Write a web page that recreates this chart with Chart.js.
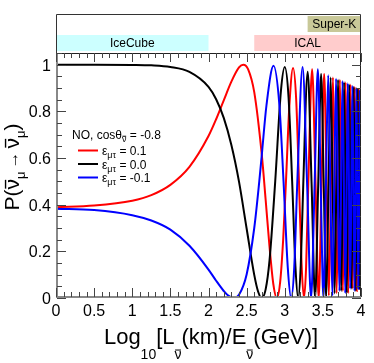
<!DOCTYPE html>
<html>
<head>
<meta charset="utf-8">
<script src="https://cdn.jsdelivr.net/npm/chart.js@4.4.0/dist/chart.umd.min.js"></script>
<style>
  html, body { margin: 0; padding: 0; background: #fff; }
  #wrap { width: 374px; height: 363px; position: relative; }
</style>
</head>
<body>
<div id="wrap"><canvas id="probChart"></canvas></div>
<script>
// ==== DATA ====
// x = Log10[L/E], y = P(anti-numu -> anti-numu)
const redX = [0, 0.5, 1.0, 1.25, 1.5, 1.75, 2.0, 2.1, 2.2, 2.3, 2.4, 2.457, 2.52, 2.6, 2.7, 2.75, 2.8, 2.85, 2.896,
  2.94, 2.98, 3.016, 3.06, 3.109, 3.15, 3.1865, 3.22, 3.252, 3.28, 3.309, 3.359, 3.404, 3.445, 3.482, 3.517,
  3.549, 3.578, 3.606, 3.632, 3.657, 3.680, 3.702, 3.723, 3.743, 3.762, 3.781, 3.798, 3.815, 3.832, 3.847,
  3.862, 3.877, 3.891, 3.905, 3.918, 3.931, 3.944, 3.956, 3.968, 3.979, 3.991, 4.0];
const redY = [0.389, 0.396, 0.417, 0.441, 0.485, 0.562, 0.694, 0.766, 0.847, 0.927, 0.988, 1.0, 0.98, 0.882, 0.610, 0.419, 0.221, 0.060, 0,
  0.069, 0.255, 0.5, 0.82, 0.986, 0.851, 0.5, 0.15, 0, 0.133, 0.49, 0.98, 0.49, 0, 0.48, 0.96,
  0.48, 0.01, 0.48, 0.945, 0.48, 0.02, 0.47, 0.935, 0.47, 0.03, 0.47, 0.925, 0.47, 0.02, 0.47,
  0.915, 0.47, 0.04, 0.47, 0.905, 0.46, 0.03, 0.46, 0.895, 0.46, 0.04, 0.39];

const blackX = [0, 0.5, 1.0, 1.25, 1.5, 1.75, 2.0, 2.1, 2.2, 2.3, 2.4, 2.5, 2.6, 2.65, 2.699, 2.75, 2.8, 2.875,
  2.95, 3.0, 3.05, 3.097, 3.14, 3.176, 3.21, 3.243, 3.301, 3.352, 3.398, 3.439, 3.477, 3.512, 3.544, 3.574,
  3.602, 3.628, 3.653, 3.677, 3.699, 3.720, 3.740, 3.760, 3.778, 3.796, 3.813, 3.829, 3.845, 3.860, 3.875,
  3.889, 3.903, 3.916, 3.929, 3.942, 3.954, 3.966, 3.978, 3.989, 4.0];
const blackY = [1.0, 1.0, 0.999, 0.997, 0.990, 0.969, 0.905, 0.852, 0.772, 0.656, 0.499, 0.298, 0.099, 0.028, 0, 0.038, 0.160, 0.5,
  0.888, 0.99, 0.86, 0.5, 0.136, 0, 0.141, 0.49, 0.97, 0.49, 0, 0.49, 0.96, 0.48, 0, 0.48,
  0.945, 0.48, 0.02, 0.48, 0.935, 0.48, 0.03, 0.47, 0.925, 0.47, 0.02, 0.47, 0.915, 0.47, 0.04,
  0.47, 0.905, 0.47, 0.03, 0.46, 0.895, 0.46, 0.04, 0.46, 0.89];

const blueX = [0, 0.5, 1.0, 1.25, 1.5, 1.75, 2.0, 2.1, 2.2, 2.25, 2.329, 2.4, 2.5, 2.6, 2.666, 2.7, 2.76, 2.853,
  2.93, 2.984, 3.04, 3.084, 3.125, 3.165, 3.234, 3.293, 3.345, 3.392, 3.434, 3.472, 3.507, 3.540, 3.570,
  3.598, 3.625, 3.650, 3.673, 3.696, 3.717, 3.738, 3.757, 3.776, 3.793, 3.811, 3.827, 3.843, 3.858, 3.873,
  3.887, 3.901, 3.915, 3.928, 3.940, 3.953, 3.964, 3.976, 3.987, 3.998, 4.0];
const blueY = [0.383, 0.377, 0.355, 0.332, 0.293, 0.224, 0.122, 0.074, 0.030, 0.0125, 0, 0.014, 0.101, 0.300, 0.5, 0.617, 0.825, 0.995,
  0.825, 0.5, 0.129, 0, 0.135, 0.5, 0.99, 0.49, 0, 0.49, 0.98, 0.48, 0, 0.48, 0.955,
  0.48, 0.01, 0.48, 0.94, 0.47, 0.03, 0.47, 0.93, 0.47, 0.02, 0.47, 0.92, 0.47, 0.04, 0.47,
  0.91, 0.46, 0.03, 0.46, 0.90, 0.46, 0.04, 0.46, 0.89, 0.46, 0.39];

const seriesLabels = ['0.1', '0.0', '-0.1'];
const cosTheta = '-0.8';

const xTicks = [0, 0.5, 1, 1.5, 2, 2.5, 3, 3.5, 4];
const xTickLabels = ['0', '0.5', '1', '1.5', '2', '2.5', '3', '3.5', '4'];
const yTicks = [0, 0.2, 0.4, 0.6, 0.8, 1];
const yTickLabels = ['0', '0.2', '0.4', '0.6', '0.8', '1'];

// experiment ranges in Log10[L/E]
const experiments = ['IceCube', 'ICAL', 'Super-K'];
const expFrom = [0, 2.6, 3.3];
const expTo = [2, 4, 4];

// ==== STYLE ====
const FONT = '"Liberation Sans", Arial, Helvetica, sans-serif';
const seriesColors = ['#ff0000', '#000000', '#0000ff'];
const expColors = ['#ccffff', '#ffcccc', '#c8c898'];
const expRow = [1, 1, 0];   // 0 = upper row, 1 = lower row

function toPoints(xs, ys) {
  return xs.map((x, i) => ({ x: x, y: ys[i] }));
}

// draw text made of pieces: {t, size, dy, bar, gap}
function richText(ctx, parts, x, y, align) {
  let total = 0;
  parts.forEach(p => {
    ctx.font = p.size + 'px ' + FONT;
    p.w = ctx.measureText(p.t).width + (p.gap || 0) * 2;
    total += p.w;
  });
  let cx = align === 'center' ? x - total / 2 : x;
  parts.forEach(p => {
    const by = y + (p.dy || 0);
    const gx = cx + (p.gap || 0);
    const tw = p.w - (p.gap || 0) * 2;
    ctx.font = p.size + 'px ' + FONT;
    ctx.fillText(p.t, gx, by);
    if (p.bar) {
      const top = by - p.size * 0.64;
      ctx.beginPath();
      ctx.lineWidth = Math.max(1, p.size / 15);
      ctx.moveTo(gx + tw * 0.08, top);
      ctx.lineTo(gx + tw * 0.92, top);
      ctx.stroke();
    }
    cx += p.w;
  });
}

const decorPlugin = {
  id: 'decor',
  afterDraw(chart) {
    const ctx = chart.ctx;
    const a = chart.chartArea;
    const xs = chart.scales.x, ys = chart.scales.y;
    ctx.save();

    // ---- top panel with experiments ----
    const panelTop = 14;
    experiments.forEach((name, i) => {
      const x0 = xs.getPixelForValue(expFrom[i]);
      const x1 = xs.getPixelForValue(expTo[i]);
      const y0 = expRow[i] === 0 ? 16 : 35;
      ctx.fillStyle = expColors[i];
      ctx.fillRect(x0, y0, x1 - x0, 16);
      ctx.fillStyle = '#000';
      ctx.font = '12px ' + FONT;
      ctx.textAlign = 'center';
      ctx.textBaseline = 'middle';
      ctx.fillText(name, (x0 + x1) / 2, y0 + 8.5);
    });
    ctx.strokeStyle = '#333';
    ctx.lineWidth = 1;
    ctx.beginPath();
    ctx.moveTo(a.left + 0.5, a.top);
    ctx.lineTo(a.left + 0.5, panelTop + 0.5);
    ctx.lineTo(a.right - 0.5, panelTop + 0.5);
    ctx.lineTo(a.right - 0.5, a.top);
    ctx.stroke();

    // ---- frame ----
    ctx.strokeStyle = '#222';
    ctx.beginPath();
    ctx.moveTo(a.left, a.top + 0.5);
    ctx.lineTo(a.right - 0.5, a.top + 0.5);
    ctx.lineTo(a.right - 0.5, a.bottom);
    ctx.stroke();
    ctx.strokeStyle = '#888';
    ctx.lineWidth = 2;
    ctx.beginPath();
    ctx.moveTo(a.left + 1, a.top);
    ctx.lineTo(a.left + 1, a.bottom - 1);
    ctx.lineTo(a.right, a.bottom - 1);
    ctx.stroke();

    // ---- ticks ----
    ctx.strokeStyle = '#444';
    ctx.lineWidth = 1;
    ctx.beginPath();
    for (let i = 0; i <= 40; i++) {
      const px = Math.round(xs.getPixelForValue(i / 10)) + 0.5;
      const len = i % 5 === 0 ? 9 : 5;
      ctx.moveTo(px, a.bottom - 1);
      ctx.lineTo(px, a.bottom - 1 - len);
      ctx.moveTo(px, a.top);
      ctx.lineTo(px, a.top + len);
    }
    for (let i = 0; i <= 21; i++) {
      const py = Math.round(ys.getPixelForValue(i * 0.05)) + 0.5;
      const len = i % 4 === 0 ? 9 : 5;
      ctx.moveTo(a.left + 1, py);
      ctx.lineTo(a.left + 1 + len, py);
      ctx.moveTo(a.right, py);
      ctx.lineTo(a.right - len, py);
    }
    ctx.stroke();

    // ---- tick labels ----
    ctx.fillStyle = '#000';
    ctx.font = '16px ' + FONT;
    ctx.textAlign = 'center';
    ctx.textBaseline = 'alphabetic';
    xTicks.forEach((v, i) => {
      ctx.fillText(xTickLabels[i], xs.getPixelForValue(v), 316);
    });
    ctx.textAlign = 'right';
    yTicks.forEach((v, i) => {
      ctx.fillText(yTickLabels[i], 51, ys.getPixelForValue(v) + 6);
    });

    // ---- axis titles ----
    ctx.textAlign = 'left';
    ctx.strokeStyle = '#000';
    richText(ctx, [
      { t: 'Log', size: 22 },
      { t: '10', size: 14, dy: 15 },
      { t: '[L', size: 22 },
      { t: 'ν', size: 14, dy: 15, bar: true },
      { t: '(km)/E', size: 22 },
      { t: 'ν', size: 14, dy: 15, bar: true },
      { t: '(GeV)]', size: 22 }
    ], 211, 344, 'center');

    ctx.save();
    ctx.translate(19, 167);
    ctx.rotate(-Math.PI / 2);
    richText(ctx, [
      { t: 'P(', size: 21 },
      { t: 'ν', size: 21, bar: true },
      { t: 'μ', size: 13, dy: 6 },
      { t: '→', size: 17, dy: -1, gap: 3 },
      { t: 'ν', size: 21, bar: true },
      { t: 'μ', size: 13, dy: 6 },
      { t: ')', size: 21 }
    ], 0, 0, 'center');
    ctx.restore();

    // ---- legend ----
    richText(ctx, [
      { t: 'NO, cosθ', size: 12 },
      { t: 'ν', size: 9, dy: 3, bar: true },
      { t: ' = ' + cosTheta, size: 12 }
    ], 72, 139, 'left');
    const rowY = [150.5, 164, 177.5];
    seriesLabels.forEach((lab, i) => {
      ctx.strokeStyle = seriesColors[i];
      ctx.lineWidth = 2;
      ctx.beginPath();
      ctx.moveTo(78, rowY[i]);
      ctx.lineTo(98, rowY[i]);
      ctx.stroke();
      ctx.fillStyle = '#000';
      richText(ctx, [
        { t: 'ε', size: 12 },
        { t: 'μτ', size: 9, dy: 3 },
        { t: ' = ' + lab, size: 12 }
      ], 102, rowY[i] + 4.5, 'left');
    });

    ctx.restore();
  }
};

const probChart = new Chart(document.getElementById('probChart').getContext('2d'), {
  type: 'line',
  data: {
    datasets: [
      { label: 'eps = ' + seriesLabels[0], data: toPoints(redX, redY), borderColor: seriesColors[0], order: 3 },
      { label: 'eps = ' + seriesLabels[1], data: toPoints(blackX, blackY), borderColor: seriesColors[1], order: 2 },
      { label: 'eps = ' + seriesLabels[2], data: toPoints(blueX, blueY), borderColor: seriesColors[2], order: 1 }
    ]
  },
  options: {
    responsive: true,
    maintainAspectRatio: false,
    animation: false,
    layout: { padding: { left: 56, right: 13, top: 53, bottom: 65 } },
    elements: {
      line: { borderWidth: 2, cubicInterpolationMode: 'monotone', fill: false },
      point: { radius: 0, hoverRadius: 0 }
    },
    plugins: { legend: { display: false }, tooltip: { enabled: false } },
    scales: {
      x: { type: 'linear', min: 0, max: 4, display: false },
      y: { type: 'linear', min: 0, max: 1.05, display: false }
    }
  },
  plugins: [decorPlugin]
});
</script>
</body>
</html>
